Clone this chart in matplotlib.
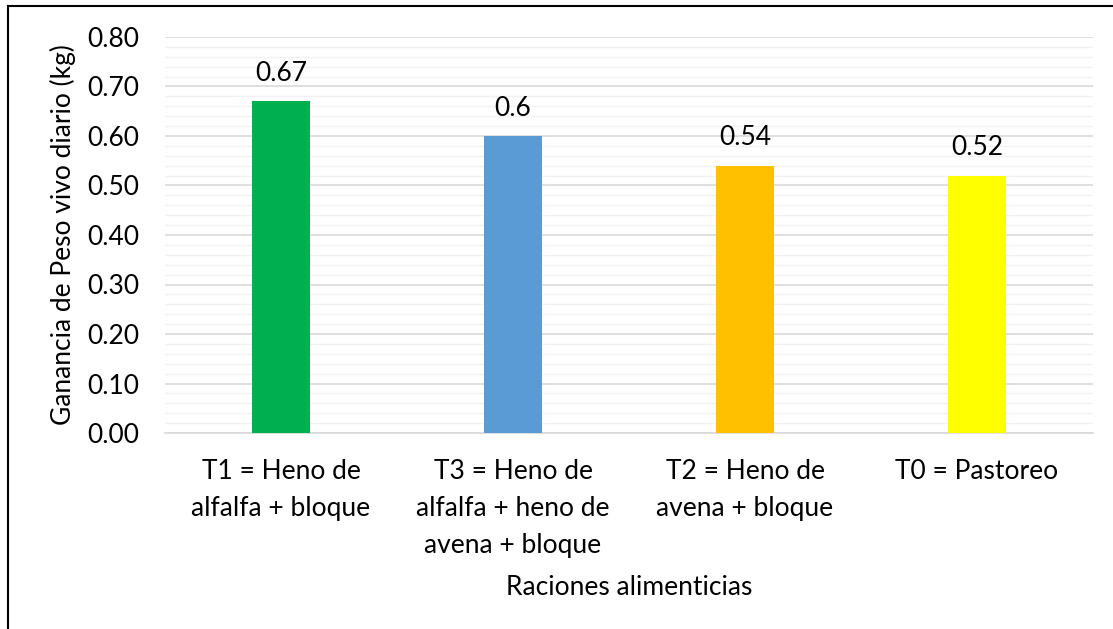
import matplotlib.pyplot as plt
from matplotlib.patches import Rectangle
from matplotlib.ticker import MultipleLocator

# data
categories = ["T1 = Heno de\nalfalfa + bloque",
              "T3 = Heno de\nalfalfa + heno de\navena + bloque",
              "T2 = Heno de\navena + bloque",
              "T0 = Pastoreo"]
values = [0.67, 0.6, 0.54, 0.52]
value_labels = ["0.67", "0.6", "0.54", "0.52"]
colors = ["#00B050", "#5B9BD5", "#FFC000", "#FFFF00"]

plt.rcParams['font.family'] = ['Lato', 'DejaVu Sans']
FS = 19

fig = plt.figure(figsize=(11.13, 6.29), dpi=100)
W, H = 1113, 629
ax = fig.add_axes([165 / W, 1 - 433 / H, 928 / W, 396 / H])

x = range(len(categories))
ax.bar(x, values, width=0.254, color=colors, zorder=3)
for i, v in enumerate(values):
    ax.annotate(value_labels[i], (i, v), xytext=(0, 11), textcoords="offset points",
                ha="center", va="bottom", fontsize=FS, color="#000000")

ax.set_xlim(-0.5, len(categories) - 0.5)
ax.set_ylim(0, 0.8)
ax.yaxis.set_major_locator(MultipleLocator(0.1))
ax.yaxis.set_minor_locator(MultipleLocator(0.02))
ax.yaxis.set_major_formatter(lambda v, p: f"{v:.2f}")
ax.grid(axis="y", which="major", color="#D9D9D9", linewidth=1.2, zorder=0)
ax.grid(axis="y", which="minor", color="#F2F2F2", linewidth=1.0, zorder=0)
for s in ["top", "right", "left"]:
    ax.spines[s].set_visible(False)
ax.spines["bottom"].set_color("#D9D9D9")
ax.spines["bottom"].set_linewidth(1.2)
ax.tick_params(axis="both", which="both", length=0, labelsize=FS)
ax.tick_params(axis="y", pad=18.5)
ax.tick_params(axis="x", pad=19)
ax.set_xticks(list(x))
ax.set_xticklabels(categories, linespacing=1.6)

ax.set_ylabel("Ganancia de Peso vivo diario (kg)", fontsize=FS, labelpad=8)
ax.set_xlabel("Raciones alimenticias", fontsize=FS, labelpad=12)

# outer chart border
fig.add_artist(Rectangle((8 / W, -0.1), 1.2, 1 - 6 / H + 0.1, transform=fig.transFigure,
                         fill=False, edgecolor="#000000", linewidth=1.5))

fig.savefig("out.png", dpi=100)
